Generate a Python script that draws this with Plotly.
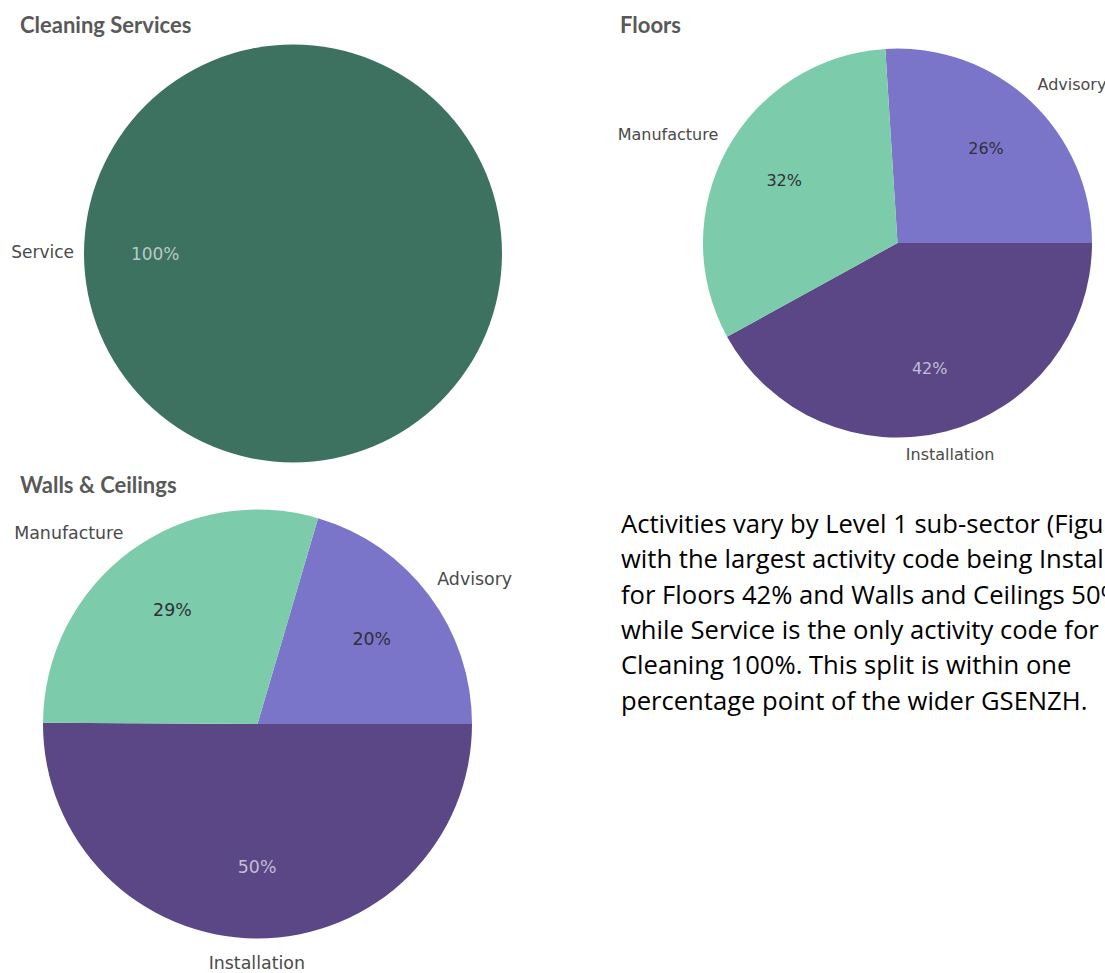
import numpy as np
import plotly.graph_objects as go

# ---- data ----
cleaning_labels = ["Service"]
cleaning_values = [100]

floors_labels = ["Advisory", "Installation", "Manufacture"]
floors_values = [26, 42, 32]

walls_labels = ["Advisory", "Installation", "Manufacture"]
walls_values = [20.4, 50.0, 29.4]

titles = ["Cleaning Services", "Floors", "Walls & Ceilings"]

body_lines = [
    "Activities vary by Level 1 sub-sector (Figure 3),",
    "with the largest activity code being Installation",
    "for Floors 42% and Walls and Ceilings 50%,",
    "while Service is the only activity code for",
    "Cleaning 100%. This split is within one",
    "percentage point of the wider GSENZH.",
]

# ---- styles ----
COLORS = {"Advisory": "#7B75CA", "Installation": "#5B4785", "Manufacture": "#7CCBAB", "Service": "#3C725F"}
TXT_DARK = "#2f2f3a"
TXT_LIGHT = "rgba(235,235,245,0.72)"
TXT_COLORS = {"Advisory": TXT_DARK, "Installation": TXT_LIGHT, "Manufacture": TXT_DARK, "Service": TXT_LIGHT}
LABEL_COLOR = "#4a4a4a"
CLEAR = "rgba(0,0,0,0)"
W, H = 1105, 973
EXTRA_PAD = {"bottom center": 7}


def dom(cx, cy, r):
    return dict(x=[max(0, (cx - r) / W), min(1, (cx + r) / W)],
                y=[max(0, 1 - (cy + r) / H), min(1, 1 - (cy - r) / H)])


def text_pos(a):
    a = a % 360
    if abs(a - 180) < 25:
        return "bottom center"
    if a < 25 or a > 335:
        return "top center"
    if abs(a - 90) < 8:
        return "middle right"
    if abs(a - 270) < 8:
        return "middle left"
    if a < 90:
        return "top right"
    if a < 180:
        return "bottom right"
    if a < 270:
        return "bottom left"
    return "top left"


fig = go.Figure()


def add_chart(labels, values, cx, cy, r, rotation, fsize, pad, pct_text=True, pct_template="%{percent:.0%}"):
    d = dom(cx, cy, r)
    common = dict(labels=labels, values=values, domain=d, sort=False,
                  direction="clockwise", rotation=rotation, showlegend=False)
    fsz = dict(family="DejaVu Sans", size=fsize, color=[TXT_COLORS[l] for l in labels])
    if pct_text:
        # coloured slices, then a transparent ring carrying the percentages at ~2/3 radius
        fig.add_trace(go.Pie(**common, marker=dict(colors=[COLORS[l] for l in labels], line=dict(width=0)),
                             textinfo="none", hoverinfo="label+percent"))
        fig.add_trace(go.Pie(**common, hole=0.33, marker=dict(colors=[CLEAR] * len(labels), line=dict(width=0)),
                             texttemplate=pct_template, textposition="inside",
                             insidetextorientation="horizontal", insidetextfont=fsz, hoverinfo="skip"))
    else:
        fig.add_trace(go.Pie(**common, marker=dict(colors=[COLORS[l] for l in labels], line=dict(width=0)),
                             texttemplate=pct_template, textposition="inside",
                             insidetextorientation="horizontal", insidetextfont=fsz,
                             hoverinfo="label+percent"))
    # category labels just outside each slice, at its middle angle
    vals = np.asarray(values, dtype=float)
    mids = rotation + 360 * (np.cumsum(vals) - vals / 2) / vals.sum()
    poss = [text_pos(a) for a in mids]
    dist = [r + pad + EXTRA_PAD.get(p, 0) for p in poss]
    rad = np.deg2rad(mids)
    lx = [cx + dd * np.sin(t) for dd, t in zip(dist, rad)]
    ly = [cy - dd * np.cos(t) for dd, t in zip(dist, rad)]
    fig.add_trace(go.Scatter(x=lx, y=ly, mode="text", text=list(labels), textposition=poss,
                             textfont=dict(family="DejaVu Sans", size=fsize, color=LABEL_COLOR),
                             cliponaxis=False, showlegend=False, hoverinfo="skip"))


pad_sp = "\u00a0" * 51
add_chart(cleaning_labels, cleaning_values, 293, 253.5, 209, 90, 17, 10,
          pct_text=False, pct_template="%{percent:.0%}" + pad_sp)
add_chart(floors_labels, floors_values, 897.5, 243, 194.5, -3.6, 16, 10)
add_chart(walls_labels, walls_values, 257.5, 724, 214.5, 16.4, 17.4, 10)

title_pos = [(18, 25), (618, 25), (18, 484)]
for t, (x, y) in zip(titles, title_pos):
    fig.add_annotation(text="<b>" + t + "</b>", x=x / W, y=1 - y / H, xref="paper", yref="paper",
                       xanchor="left", yanchor="middle", showarrow=False,
                       font=dict(family="Lato", size=22, color="#595959"))

for i, line in enumerate(body_lines):
    fig.add_annotation(text=line, x=618.5 / W, y=1 - (523.5 + 35.3 * i) / H, xref="paper", yref="paper",
                       xanchor="left", yanchor="middle", align="left", showarrow=False,
                       font=dict(family="Open Sans", size=25.6, color="#000000"))

fig.update_layout(width=W, height=H, margin=dict(l=0, r=0, t=0, b=0),
                  paper_bgcolor="white", plot_bgcolor="white",
                  xaxis=dict(range=[0, W], visible=False, fixedrange=True, domain=[0, 1]),
                  yaxis=dict(range=[H, 0], visible=False, fixedrange=True, domain=[0, 1]))
fig.write_html("out.html", config={"displayModeBar": False},
               post_script="document.body.style.margin='0';")
